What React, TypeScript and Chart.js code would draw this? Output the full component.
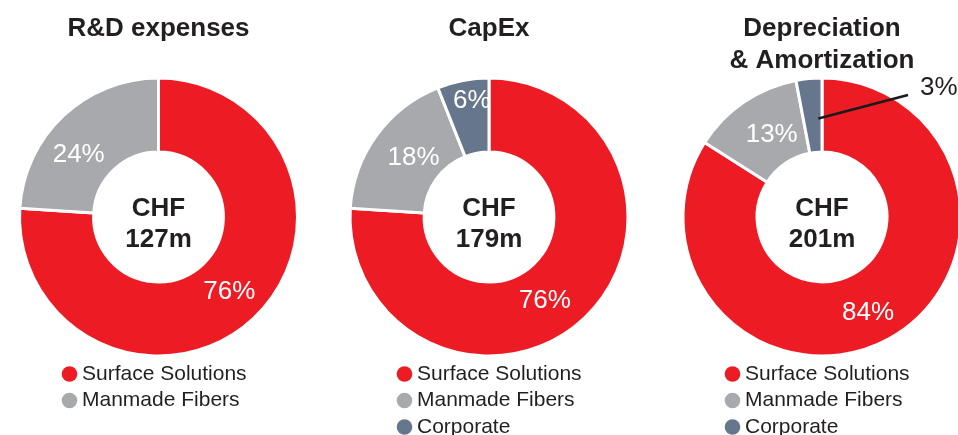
import React, { useEffect, useRef } from "react";
import { Chart, registerables } from "chart.js";

Chart.register(...registerables);

// ---------- data ----------
const segmentNames = ["Surface Solutions", "Manmade Fibers", "Corporate"];
const segmentColors = ["#ED1C24", "#A7A9AC", "#66768C"];

const rdValues = [76, 24];
const capexValues = [76, 18, 6];
const daValues = [84, 13, 3];

const rdTitle = ["R&D expenses"];
const capexTitle = ["CapEx"];
const daTitle = ["Depreciation", "& Amortization"];

const rdTotal = ["CHF", "127m"];
const capexTotal = ["CHF", "179m"];
const daTotal = ["CHF", "201m"];

// ---------- layout (styles / positions) ----------
const W = 1000;
const H = 435;
const CY = 217;
const OUTER = 139;
const INNER = 67;
const TEXT = "#231F20";
const FONT = "'Liberation Sans', Arial, Helvetica, sans-serif";

type Cfg = {
  values: number[];
  title: string[];
  total: string[];
  cx: number;
  legendX: number;
  nudges: number[][];
  callout?: { index: number; line: number[]; text: number[] };
};

const charts: Cfg[] = [
  {
    values: rdValues,
    title: rdTitle,
    total: rdTotal,
    cx: 158.5,
    legendX: 82,
    nudges: [
      [1, 0],
      [-10, 11],
    ],
  },
  {
    values: capexValues,
    title: capexTitle,
    total: capexTotal,
    cx: 489,
    legendX: 417,
    nudges: [
      [-14, 9],
      [7, 0],
      [2, -17],
    ],
  },
  {
    values: daValues,
    title: daTitle,
    total: daTotal,
    cx: 822,
    legendX: 745,
    nudges: [
      [-3, 5],
      [7, 1],
      [6, 3],
    ],
    callout: { index: 2, line: [86, -122], text: [98, -129] },
  },
];

function Donut({ cfg }: { cfg: Cfg }) {
  const ref = useRef<HTMLCanvasElement | null>(null);
  useEffect(() => {
    const canvas = ref.current;
    if (!canvas) return;
    const n = cfg.values.length;
    const overlay = {
      id: "overlay",
      afterDraw(chart: any) {
        const ctx = chart.ctx as CanvasRenderingContext2D;
        const meta = chart.getDatasetMeta(0);
        const first = meta.data[0];
        const cx = first.x;
        const cy = first.y;
        ctx.save();
        // title
        ctx.fillStyle = TEXT;
        ctx.textAlign = "center";
        ctx.textBaseline = "middle";
        ctx.font = `bold 26px ${FONT}`;
        cfg.title.forEach((t, i) => ctx.fillText(t, cx, 28.5 + i * 32.5));
        // center total
        ctx.font = `bold 26px ${FONT}`;
        ctx.fillText(cfg.total[0], cx, 209);
        ctx.fillText(cfg.total[1], cx, 240);
        // segment labels
        ctx.font = `26px ${FONT}`;
        meta.data.forEach((arc: any, i: number) => {
          const pos = arc.tooltipPosition();
          const v = chart.data.datasets[0].data[i];
          const label = `${v}%`;
          if (cfg.callout && cfg.callout.index === i) {
            const sx = pos.x + cfg.nudges[i][0];
            const sy = pos.y + cfg.nudges[i][1];
            ctx.strokeStyle = "#1A1A1A";
            ctx.lineWidth = 2.5;
            ctx.beginPath();
            ctx.moveTo(sx, sy);
            ctx.lineTo(cx + cfg.callout.line[0], cy + cfg.callout.line[1]);
            ctx.stroke();
            ctx.fillStyle = TEXT;
            ctx.textAlign = "left";
            ctx.fillText(label, cx + cfg.callout.text[0], cy + cfg.callout.text[1]);
            ctx.textAlign = "center";
          } else {
            ctx.fillStyle = "#FFFFFF";
            ctx.fillText(label, pos.x + cfg.nudges[i][0], pos.y + cfg.nudges[i][1] + 1);
          }
        });
        // legend
        ctx.font = `21px ${FONT}`;
        ctx.textAlign = "left";
        chart.data.labels.forEach((name: string, i: number) => {
          const y = 374 + i * 26.5;
          ctx.fillStyle = segmentColors[i];
          ctx.beginPath();
          ctx.arc(cfg.legendX - 12.5, y, 7.8, 0, Math.PI * 2);
          ctx.fill();
          ctx.fillStyle = TEXT;
          ctx.fillText(name, cfg.legendX, y);
        });
        ctx.restore();
      },
    };
    const chart = new Chart(canvas, {
      type: "doughnut",
      data: {
        labels: segmentNames.slice(0, n),
        datasets: [
          {
            data: cfg.values,
            backgroundColor: segmentColors.slice(0, n),
            borderColor: "#FFFFFF",
            borderWidth: 3,
            hoverOffset: 0,
          },
        ],
      },
      options: {
        responsive: false,
        animation: false,
        events: [],
        radius: OUTER,
        cutout: INNER,
        layout: {
          padding: {
            left: cfg.cx - 145,
            right: W - (cfg.cx + 145),
            top: CY - 145,
            bottom: H - (CY + 145),
          },
        },
        plugins: {
          legend: { display: false },
          tooltip: { enabled: false },
          title: { display: false },
        },
      } as any,
      plugins: [overlay],
    });
    return () => chart.destroy();
  }, [cfg]);
  return (
    <canvas
      ref={ref}
      width={W}
      height={H}
      style={{ position: "absolute", left: 0, top: 0, width: W, height: H }}
    />
  );
}

export default function App() {
  return (
    <div
      style={{
        position: "fixed",
        left: 0,
        top: 0,
        width: 958,
        height: 435,
        overflow: "hidden",
        background: "#FFFFFF",
      }}
    >
      {charts.map((c, i) => (
        <Donut key={i} cfg={c} />
      ))}
    </div>
  );
}
